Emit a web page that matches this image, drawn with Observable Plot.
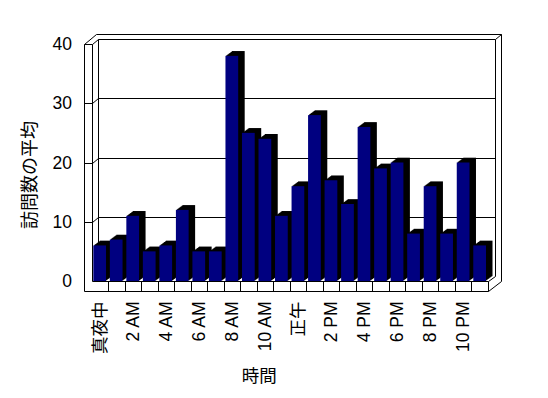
<!DOCTYPE html>
<html><head><meta charset="utf-8">
<script src="https://cdn.jsdelivr.net/npm/d3@7"></script>
<script src="https://cdn.jsdelivr.net/npm/@observablehq/plot@0.6"></script>
<style>body{margin:0;background:#fff}</style>
</head><body><div id="chart"></div>
<script>
// Data
const hours = ["真夜中","1 AM","2 AM","3 AM","4 AM","5 AM","6 AM","7 AM","8 AM","9 AM","10 AM","11 AM",
               "正午","1 PM","2 PM","3 PM","4 PM","5 PM","6 PM","7 PM","8 PM","9 PM","10 PM","11 PM"];
const visits = [6,7,11,5,6,12,5,5,38,25,24,11,16,28,17,13,26,19,20,8,16,8,20,6];
const tickLabels = ["真夜中","2 AM","4 AM","6 AM","8 AM","10 AM","正午","2 PM","4 PM","6 PM","8 PM","10 PM"];
const yTicks = [0,10,20,30,40];
const gridValues = [10,20,30];
const yLabel = "訪問数の平均";
const xLabel = "時間";

const data = hours.map((h, i) => ({hour: h, visits: visits[i]}));

// 3D look
const d1 = [6.5, -4.8];   // inner depth (bars, back wall face)
const d2 = [12.5, -10];   // outer depth (wall thickness)
const wallW = 8, floorH = 10;
const inL = 1.8, inR = 2.0;
const steps = 7;

function px(v) { return Math.round(v) + 0.5; }

function box(index, scales, values, dims) {
  const {width, height, marginLeft, marginRight, marginTop, marginBottom} = dims;
  const L = marginLeft, R = width - marginRight, T = marginTop, B = height - marginBottom;
  const y = scales.y, x = scales.x;
  const s = [];
  // back wall inner face
  s.push([L + d1[0], T + d1[1], R + d1[0], T + d1[1]]);
  s.push([R + d1[0], T + d1[1], R + d1[0], B + d1[1]]);
  s.push([L + d1[0], T + d1[1], L + d1[0], B + d1[1]]);
  s.push([R, B, R + d1[0], B + d1[1]]);
  // outer back
  s.push([L - wallW + d2[0], T + d2[1], R + d2[0], T + d2[1]]);
  s.push([R + d2[0], T + d2[1], R + d2[0], B + floorH + d2[1]]);
  s.push([R, B + floorH, R + d2[0], B + floorH + d2[1]]);
  s.push([R + d1[0], T + d1[1], R + d2[0], T + d2[1]]);
  // left wall
  s.push([L - wallW, T, L - wallW, B + floorH]);
  s.push([L, T, L, B]);
  s.push([L - wallW, T, L, T]);
  s.push([L - wallW, T, L - wallW + d2[0], T + d2[1]]);
  s.push([L, T, L + d1[0], T + d1[1]]);
  // floor front
  s.push([L, B, R, B]);
  s.push([L - wallW, B + floorH, R, B + floorH]);
  s.push([R, B, R, B + floorH]);
  hours.forEach((h, i) => { if (i > 0) { const xx = x(h); s.push([xx, B, xx, B + floorH]); } });
  // gridlines
  gridValues.forEach(v => {
    const yy = y(v);
    s.push([L - wallW, yy, L, yy]);
    s.push([L, yy, L + d1[0], yy + d1[1]]);
    s.push([L + d1[0], yy + d1[1], R + d1[0], yy + d1[1]]);
  });
  const g = d3.create("svg:g").attr("stroke", "black").attr("fill", "none").attr("stroke-width", 1);
  g.selectAll("line").data(s).join("line")
    .attr("x1", d => px(d[0])).attr("y1", d => px(d[1]))
    .attr("x2", d => px(d[2])).attr("y2", d => px(d[3]));
  return g.node();
}

const extrusion = d3.range(1, steps + 1).map(k =>
  Plot.barY(data, {x: "hour", y: "visits", fill: "black",
    dx: k * d1[0] / steps, dy: k * d1[1] / steps, insetLeft: inL, insetRight: inR}));

const chart = Plot.plot({
  width: 548, height: 398,
  marginLeft: 91.5, marginRight: 60, marginTop: 44, marginBottom: 117,
  style: {fontSize: "17.5px", fontFamily: "'Liberation Sans', 'Noto Sans CJK JP', sans-serif", background: "white", color: "black"},
  x: {type: "band", domain: hours, padding: 0, round: false, ticks: tickLabels,
      tickRotate: -90, tickSize: 0, tickPadding: 20, label: null},
  y: {domain: [0, 40], ticks: yTicks, tickSize: 0, tickPadding: 20, label: null},
  marks: [
    box,
    ...extrusion,
    Plot.barY(data, {x: "hour", y: "visits", fill: "#000080", insetLeft: inL, insetRight: inR}),
    Plot.text([yLabel], {frameAnchor: "left", textAnchor: "middle", lineAnchor: "middle", rotate: -90,
      dx: -62, dy: 12, fontSize: 18, fill: "black",
      fontFamily: "'Noto Sans CJK JP', sans-serif"}),
    Plot.text([xLabel], {frameAnchor: "bottom", textAnchor: "middle", lineAnchor: "middle",
      dx: -31, dy: 95, fontSize: 17.5, fill: "black",
      fontFamily: "'Noto Sans CJK JP', sans-serif"})
  ]
});
document.getElementById("chart").appendChild(chart);
</script>
</body></html>
